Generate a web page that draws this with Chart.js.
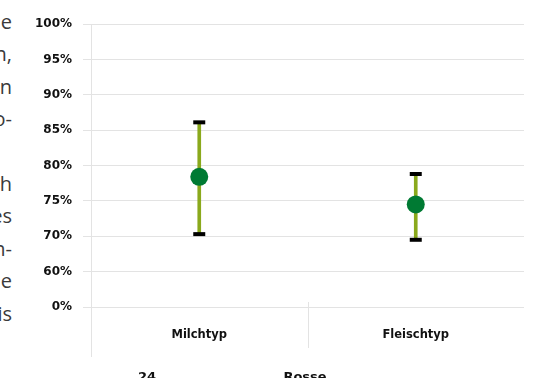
<!DOCTYPE html>
<html>
<head>
<meta charset="utf-8">
<script src="https://cdn.jsdelivr.net/npm/chart.js@4/dist/chart.umd.min.js"></script>
<style>
  html, body { margin: 0; padding: 0; background: #fff; overflow: hidden; }
  #wrap { position: relative; width: 535px; height: 378px; overflow: hidden; }
  #chart { position: absolute; left: 0; top: 0; }
  #side { position: absolute; left: -220px; top: 6px; width: 232px; text-align: right;
          font-family: "Open Sans", sans-serif; font-size: 20px; line-height: 32.4px; color: #3a3a3a; }
  #side div { height: 32.4px; white-space: nowrap; }
  .foot { position: absolute; top: 370px; font-family: "DejaVu Sans", sans-serif; font-weight: bold;
          font-size: 13px; line-height: 13px; color: #111; transform: translateX(-50%); white-space: nowrap; }
</style>
</head>
<body>
<div id="wrap">
  <div id="side"></div>
  <canvas id="chart" width="535" height="378"></canvas>
</div>
<script>
// Breed types on the x axis
const categories = ['Milchtyp', 'Fleischtyp'];
// Mean share with its upper and lower range (axis units)
const meanValues = [78.4, 74.5];
const upperValues = [86.1, 78.8];
const lowerValues = [70.3, 69.5];
// Axis runs 60..100 in steps of 5; the two lowest steps carry a broken-axis label
const tickLabels = ['0%', '60%', '70%', '75%', '80%', '85%', '90%', '95%', '100%'];
// Paragraph fragments running in from the left column
const sideText = ['e', 'n,', 'n', 'o-', '', 'h', 'es', 'n-', 'e', 'is'];
// Heading row underneath the chart
const footerLabels = ['24', 'Rosse'];
const footerX = [147, 305];

const side = document.getElementById('side');
sideText.forEach(t => {
  const d = document.createElement('div');
  d.textContent = t;
  side.appendChild(d);
});
const wrap = document.getElementById('wrap');
footerLabels.forEach((t, i) => {
  const d = document.createElement('div');
  d.className = 'foot';
  d.style.left = footerX[i] + 'px';
  d.textContent = t;
  wrap.appendChild(d);
});

const axisGrey = '#e3e3e3';

// Axis line continuation and category separator below the plot
const axisExtras = {
  id: 'axisExtras',
  beforeDatasetsDraw(chart) {
    const { ctx, chartArea, scales } = chart;
    const x = scales.x;
    ctx.save();
    ctx.strokeStyle = axisGrey;
    ctx.lineWidth = 1;
    ctx.beginPath();
    const lx = Math.round(chartArea.left) + 0.5;
    ctx.moveTo(lx, chartArea.bottom);
    ctx.lineTo(lx, chartArea.bottom + 50);
    const mid = Math.round((x.getPixelForValue(0) + x.getPixelForValue(1)) / 2) + 0.5;
    ctx.moveTo(mid, chartArea.bottom - 5);
    ctx.lineTo(mid, chartArea.bottom + 41);
    ctx.stroke();
    ctx.restore();
  }
};

new Chart(document.getElementById('chart'), {
  data: {
    labels: categories,
    datasets: [
      {
        type: 'line',
        data: meanValues,
        showLine: false,
        pointRadius: 9,
        pointBorderWidth: 0,
        pointBackgroundColor: '#007a33',
        pointBorderColor: '#007a33',
        order: 0
      },
      {
        type: 'line',
        data: upperValues,
        showLine: false,
        pointStyle: 'line',
        pointRadius: 6,
        pointBorderWidth: 4,
        pointBorderColor: '#000',
        order: 1
      },
      {
        type: 'line',
        data: lowerValues,
        showLine: false,
        pointStyle: 'line',
        pointRadius: 6,
        pointBorderWidth: 4,
        pointBorderColor: '#000',
        order: 1
      },
      {
        type: 'bar',
        data: categories.map((c, i) => [lowerValues[i], upperValues[i]]),
        backgroundColor: '#8aa91c',
        borderWidth: 0,
        barThickness: 3,
        borderSkipped: false,
        order: 2
      }
    ]
  },
  options: {
    responsive: false,
    animation: false,
    devicePixelRatio: 1,
    layout: { padding: { left: 20, right: 11, top: 24, bottom: 0 } },
    plugins: { legend: { display: false }, tooltip: { enabled: false } },
    scales: {
      x: {
        type: 'category',
        offset: true,
        grid: { display: false, drawTicks: false },
        border: { display: false },
        ticks: {
          padding: 21,
          color: '#111',
          font: { family: 'DejaVu Sans', weight: 'bold', size: 11.5 }
        },
        afterFit(scale) { scale.height = 71; }
      },
      y: {
        type: 'linear',
        min: 60,
        max: 100,
        grid: { color: axisGrey, lineWidth: 1, tickLength: 8, drawTicks: true },
        border: { display: true, color: axisGrey },
        ticks: {
          stepSize: 5,
          padding: 11,
          color: '#111',
          font: { family: 'DejaVu Sans', weight: 'bold', size: 12 },
          callback: v => tickLabels[Math.round((v - 60) / 5)]
        },
        afterFit(scale) { scale.width = 71; }
      }
    }
  },
  plugins: [axisExtras]
});
</script>
</body>
</html>
